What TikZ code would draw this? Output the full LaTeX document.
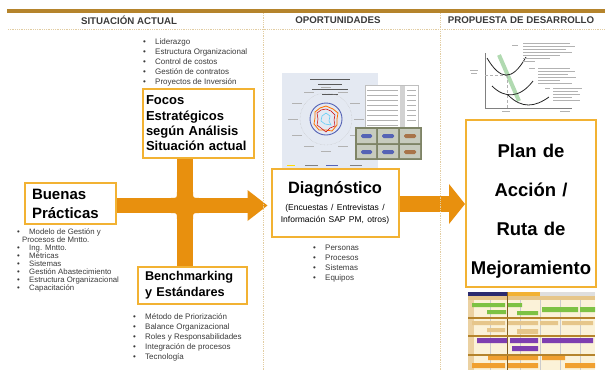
\documentclass[tikz,border=0pt]{standalone}
\usepackage{fontspec}
\setmainfont{Liberation Sans}
\usepackage{tikz}
\usetikzlibrary{arrows.meta,backgrounds}
\hyphenpenalty=10000
\exhyphenpenalty=10000
\definecolor{gold}{HTML}{F2B233}
\definecolor{flow}{HTML}{E8900E}
\definecolor{bronze}{HTML}{B5842C}
\definecolor{dots}{HTML}{E2CDA2}
\definecolor{ink}{HTML}{3A3A3A}
\definecolor{radarbg}{HTML}{E4E9F2}
\definecolor{olive}{HTML}{7E8466}
\definecolor{cell}{HTML}{C7CBBE}
\definecolor{pillblue}{HTML}{5563B5}
\definecolor{pillbrown}{HTML}{A8744A}
\definecolor{navy}{HTML}{2B2B6E}
\definecolor{ganttbg}{HTML}{FBF2D8}
\definecolor{gtan}{HTML}{E6C68A}
\definecolor{ggreen}{HTML}{7DC244}
\definecolor{gpurple}{HTML}{7E3FB0}
\definecolor{gorange}{HTML}{F0A030}
\tikzstyle{box}=[rectangle,draw=gold,line width=2pt,fill=white,align=left,text=black]
\tikzstyle{bullets}=[align=left,inner sep=0pt,text=ink,font=\fontsize{8}{10}\selectfont]
\tikzstyle{head}=[font=\fontsize{9.7}{11}\selectfont\bfseries,text=ink]
\tikzstyle{sep}=[dots,densely dotted,line width=0.8pt]
\tikzstyle{bar}=[flow]
\tikzstyle{txt}=[gray!60,line width=0.5pt]
\tikzstyle{curve}=[gray!30!black,line width=0.8pt]
\newcommand\bul{\makebox[12pt][l]{\textbullet}}

\begin{document}
\begin{tikzpicture}[x=1pt,y=-1pt,>=Triangle]
	\useasboundingbox (0,0) rectangle (605,370);

	% header
	\draw[bronze,line width=3.5pt] (7,11) -- (605,11);
	\draw[sep] (8,29) -- (605,29);
	\draw[sep] (263,13) -- (263,370);
	\draw[sep] (440,13) -- (440,370);
	\node[head] (hsit) at (129,20) {SITUACIÓN ACTUAL};
	\node[head] (hopo) at (338,20) {OPORTUNIDADES};
	\node[head] (hpro) at (521,20) {PROPUESTA DE DESARROLLO};

	% radar picture
	\fill[radarbg] (282,73) rectangle (378,170);
	\draw[gray!70!black,line width=0.9pt] (310,79) -- (350,79) (318,84) -- (342,84)
		(312,89) -- (348,89) (322,94) -- (338,94);
	\draw[gray!50,densely dotted] (326,119) circle (26);
	\draw[txt] (321,87) -- (331,87) (338,92) -- (348,92) (350,103) -- (360,103)
		(354,119) -- (364,119) (350,135) -- (360,135) (338,146) -- (348,146)
		(321,151) -- (331,151) (304,146) -- (314,146) (292,135) -- (302,135)
		(288,119) -- (298,119) (292,103) -- (302,103) (304,92) -- (314,92);
	\draw[pillblue,line width=0.9pt] (326,119) circle (16);
	\draw[orange!90!red,line width=0.8pt] (326,106) -- (333,109) -- (338,113) -- (337,119)
		-- (337,125) -- (332,131) -- (326,130) -- (319,130) -- (314,124) -- (315,118)
		-- (315,112) -- (320,108) -- cycle;
	\draw[red!80!black,line width=0.5pt] (326,109) -- (331,111) -- (335,115) -- (334,120)
		-- (335,126) -- (330,128) -- (326,132) -- (321,128) -- (317,125) -- (318,119)
		-- (317,113) -- (321,110) -- cycle;
	\draw[cyan!60,line width=0.6pt] (326,113) -- (330,116) -- (329,121) -- (331,125)
		-- (325,124) -- (321,121) -- (322,116) -- cycle;
	\draw[yellow!80!orange,line width=1pt] (287,165) -- (295,165);
	\draw[gray,line width=1pt] (305,165) -- (318,165);
	\draw[pillblue,line width=1pt] (326,165) -- (338,165);
	\draw[gray,line width=1pt] (350,165) -- (362,165);
	% table sheet
	\draw[gray!50,fill=white,line width=0.4pt] (365,85) rectangle (418,150);
	\fill[gray!35] (400,86) rectangle (405,149);
	\draw[txt] (367,90) -- (398,90) (407,90) -- (416,90) (367,95) -- (398,95) (407,95) -- (416,95)
		(367,100) -- (398,100) (407,100) -- (416,100) (367,105) -- (398,105) (407,105) -- (416,105)
		(367,110) -- (398,110) (407,110) -- (416,110) (367,115) -- (398,115) (407,115) -- (416,115)
		(367,120) -- (398,120) (407,120) -- (416,120) (367,125) -- (398,125);
	% small charts
	\fill[olive] (355,127) rectangle (422,160);
	\fill[cell] (357,129) rectangle (376,143) (378,129) rectangle (398,143) (400,129) rectangle (420,143)
		(357,145) rectangle (376,158) (378,145) rectangle (398,158) (400,145) rectangle (420,158);
	\fill[pillblue,rounded corners=1.5pt] (361,134) rectangle (372,138) (382,134) rectangle (394,138)
		(361,150) rectangle (372,154) (382,150) rectangle (394,154);
	\fill[pillbrown,rounded corners=1.5pt] (404,134) rectangle (416,138) (404,150) rectangle (416,154);

	% curves picture
	\draw[green!35!gray!45,line width=4pt] (499,55) -- (519,101);
	\draw[gray,line width=0.6pt] (485,53) -- (485,108) -- (572,108);
	\draw[gray!60,densely dashed,line width=0.4pt] (507,75) -- (507,108) (485,75) -- (507,75);
	\draw[curve] (487,58) .. controls (500,80) and (512,82) .. (526,57);
	\draw[curve] (492,86) .. controls (505,99) and (520,98) .. (533,81);
	\draw[curve] (508,95) .. controls (522,109) and (535,107) .. (549,97);
	\draw[txt] (470,70) -- (478,70) (471,73) -- (477,73) (502,111) -- (510,111) (560,111) -- (570,111)
		(512,45) -- (518,45) (523,43) -- (570,43) (523,46) -- (575,46) (523,49) -- (566,49)
		(523,52) -- (572,52) (523,55) -- (560,55) (523,58) -- (550,58) (523,61) -- (535,61)
		(529,68) -- (535,68) (538,68) -- (570,68) (538,71) -- (575,71) (538,74) -- (568,74)
		(538,77) -- (576,77) (538,80) -- (560,80) (538,83) -- (572,83)
		(545,88) -- (550,88) (553,88) -- (582,88) (553,91) -- (578,91) (553,94) -- (580,94)
		(553,97) -- (572,97) (553,100) -- (580,100);

	% gantt picture
	\begin{scope}
		\clip (468,292) rectangle (595,370);
		\fill[ganttbg] (468,296) rectangle (595,370);
		\fill[navy] (468,292) rectangle (507,296);
		\fill[gold] (507,292) rectangle (540,296);
		\fill[gray!25] (540,292) rectangle (595,296);
		\fill[gtan] (468,296) rectangle (595,300);
		\fill[gtan!80] (468,300) rectangle (474,370);
		\draw[gray!40,line width=0.3pt] (490,300) -- (490,370) (520,300) -- (520,370)
			(540,300) -- (540,370) (560,300) -- (560,370) (580,300) -- (580,370);
		\draw[bronze!70!black,line width=0.5pt] (507,292) -- (507,370);
		\draw[bronze,line width=1.2pt] (468,318) -- (595,318) (468,336) -- (595,336) (468,355) -- (595,355);
		\fill[ggreen] (472,303) rectangle (505,307) (508,303) rectangle (522,307)
			(487,310) rectangle (506,314) (517,311) rectangle (538,315)
			(542,307) rectangle (578,312) (580,307) rectangle (595,312);
		\fill[gtan] (472,321) rectangle (505,325) (508,321) rectangle (538,325)
			(540,321) rectangle (558,325) (562,321) rectangle (593,325)
			(487,328) rectangle (505,332) (517,329) rectangle (538,334);
		\fill[gpurple] (477,338) rectangle (507,343) (510,338) rectangle (538,343)
			(542,338) rectangle (593,343) (512,346) rectangle (538,351);
		\fill[gorange] (488,356) rectangle (507,360) (508,356) rectangle (538,360)
			(542,356) rectangle (565,360) (472,363) rectangle (505,368)
			(508,363) rectangle (538,368) (565,363) rectangle (595,368);
	\end{scope}

	% boxes
	\node[box,anchor=north west,text width=105pt,inner xsep=3pt,minimum height=69pt,
		font=\fontsize{13}{15.3}\selectfont\bfseries] (focos) at (142,88)
		{Focos\\Estratégicos\\según Análisis\\Situación actual};
	\node[box,anchor=north west,text width=77pt,inner xsep=7pt,minimum height=41pt,
		font=\fontsize{15}{19}\selectfont\bfseries] (buenas) at (24,182) {Buenas\\Prácticas};
	\node[box,anchor=north west,text width=95pt,inner xsep=7pt,minimum height=37pt,
		font=\fontsize{12.7}{16}\selectfont\bfseries] (bench) at (137,266) {Benchmarking\\y Estándares};
	\node[box,align=center,text width=119pt,inner xsep=4pt,minimum height=68pt] (diag) at (335,203)
		{\fontsize{16.4}{18}\selectfont\bfseries Diagnóstico\\[2.5pt]\fontsize{8.5}{14.5}\selectfont\mdseries
		(Encuestas / Entrevistas /\\Información SAP PM, otros)};
	\node[box,align=center,text width=122pt,inner xsep=4pt,minimum height=167pt,
		font=\fontsize{18.5}{39}\selectfont\bfseries] (plan) at (531,203.5)
		{\rule{0pt}{29.5pt}Plan de\\Acción /\\Ruta de\\Mejoramiento};

	% lists
	\node[bullets,anchor=north west] (lfocos) at (143,39) {\bul Liderazgo\\\bul Estructura Organizacional\\
		\bul Control de costos\\\bul Gestión de contratos\\\bul Proyectos de Inversión};
	\node[bullets,anchor=north west,font=\fontsize{7.8}{7.9}\selectfont] (lbuenas) at (17,229)
		{\bul Modelo de Gestión y\\\hspace*{5pt}Procesos de Mntto.\\\bul Ing. Mntto.\\\bul Métricas\\
		\bul Sistemas\\\bul Gestión Abastecimiento\\\bul Estructura Organizacional\\\bul Capacitación};
	\node[bullets,anchor=north west] (lbench) at (133,313) {\bul Método de Priorización\\
		\bul Balance Organizacional\\\bul Roles y Responsabilidades\\\bul Integración de procesos\\
		\bul Tecnología};
	\node[bullets,anchor=north west] (ldiag) at (313,245)
		{\bul Personas\\\bul Procesos\\\bul Sistemas\\\bul Equipos};

	% flow arrows
	\coordinate (hub) at (185,205.5);
	\coordinate (lvl) at (0,204);
	\begin{scope}[on background layer]
		\draw[bar,line width=16pt] (focos.south -| hub) -- (bench.north -| hub);
		\draw[bar,line width=15pt,-{Triangle[length=20pt,width=31pt,line width=0pt]},shorten >=3pt]
			(buenas.east |- hub) -- (diag.west |- hub);
		\fill[flow] (171,198) .. controls (177,198) .. (177,192) -- (177,198) -- cycle;
		\fill[flow] (199,198) .. controls (193,198) .. (193,192) -- (193,198) -- cycle;
		\fill[flow] (171,213) .. controls (177,213) .. (177,219) -- (177,213) -- cycle;
		\fill[flow] (199,213) .. controls (193,213) .. (193,219) -- (193,213) -- cycle;
		\draw[bar,line width=16pt,-{Triangle[length=16pt,width=40pt,line width=0pt]}]
			(diag.east |- lvl) -- (plan.west |- lvl);
	\end{scope}
\end{tikzpicture}
\end{document}
